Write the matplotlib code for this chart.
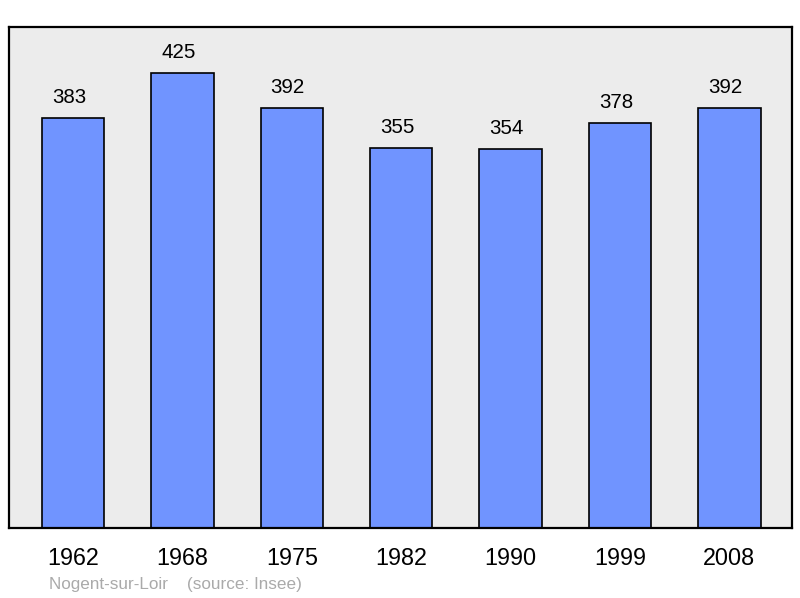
import matplotlib.pyplot as plt

years = ['1962', '1968', '1975', '1982', '1990', '1999', '2008']
population = [383, 425, 392, 355, 354, 378, 392]

plt.rcParams['font.family'] = ['Liberation Sans', 'DejaVu Sans']


def main():
    fig = plt.figure(figsize=(8, 5.98), dpi=100)
    ax = fig.add_axes([9 / 800, 1 - 528 / 598, 783 / 800, 501 / 598])
    ax.set_facecolor('#ececec')

    xs = range(len(years))
    ax.bar(xs, population, width=0.57, color='#7094ff', edgecolor='black',
           linewidth=1.2, zorder=2)
    # labels sit a few px left of the bar centre in the original
    for x, v in zip(xs, population):
        ax.annotate(str(v), (x, v + 19), xytext=(-3, 0), textcoords='offset points',
                    ha='center', va='center', fontsize=14.8)

    ax.set_xlim(-0.585, 6.572)
    ax.set_ylim(0, 467.6)
    ax.set_xticks(list(xs))
    ax.set_xticklabels(years, fontsize=16.8)
    ax.tick_params(axis='x', length=0, pad=14)
    ax.set_yticks([])
    for s in ax.spines.values():
        s.set_linewidth(1.6)

    fig.text(49 / 800, 1 - 584 / 598, 'Nogent-sur-Loir    (source: Insee)',
             color='#aaaaaa', fontsize=12.3, ha='left', va='center')

    plt.savefig('out.png', dpi=100)


if __name__ == "__main__":
    main()
